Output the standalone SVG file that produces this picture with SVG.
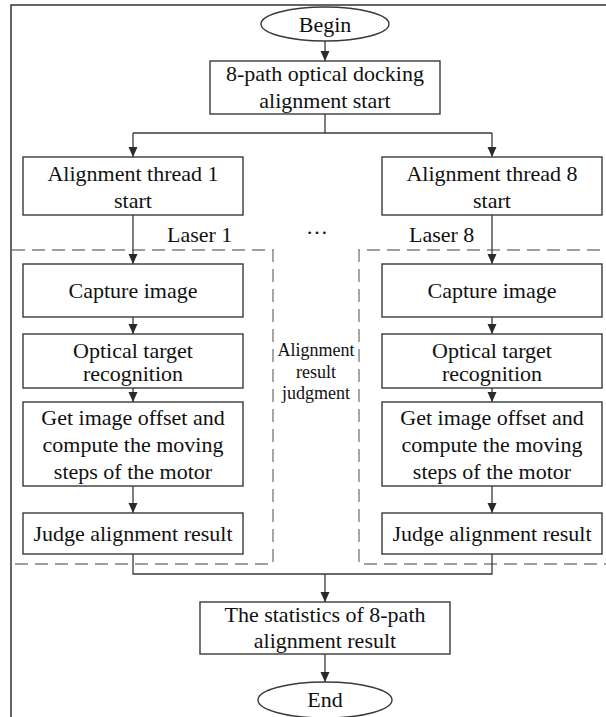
<svg xmlns="http://www.w3.org/2000/svg" width="606" height="717" viewBox="0 0 606 717">
  <style>
    .box { fill: #fff; stroke: #3a3a3a; stroke-width: 1.4; }
    .term { fill: #fff; stroke: #3a3a3a; stroke-width: 1.4; }
    .frame { fill: none; stroke: #333; stroke-width: 1.5; }
    .dash { fill: none; stroke: #808080; stroke-width: 1.4; stroke-dasharray: 13 7; }
    .wire { fill: none; stroke: #3a3a3a; stroke-width: 1.3; }
    .arr { marker-end: url(#head); }
    text { font-family: "Liberation Serif", "Times New Roman", serif; fill: #111; text-anchor: middle; }
    .t { font-size: 22px; }
    .s { font-size: 18px; }
  </style>
  <defs>
    <marker id="head" markerUnits="userSpaceOnUse" markerWidth="10" markerHeight="10" refX="10" refY="4.5" orient="auto">
      <path d="M0,0 L10,4.5 L0,9 z" fill="#2a2a2a"/>
    </marker>
  </defs>

  <rect width="606" height="717" fill="#fff"/>

  <!-- outer frame (continues past the canvas edge) -->
  <rect class="frame" x="11" y="5" width="700" height="800"/>

  <!-- dashed thread regions -->
  <g id="region-laser1">
    <path class="dash" d="M12,250 H273 V564 H12"/>
    <text class="t" x="167" y="242" style="text-anchor:start">Laser 1</text>
  </g>
  <g id="region-laser8">
    <path class="dash" d="M620,250 H359 V564 H620"/>
    <text class="t" x="409" y="242" style="text-anchor:start">Laser 8</text>
  </g>
  <g id="ellipsis">
    <text class="t" x="317" y="234">…</text>
  </g>
  <g id="judgment-label">
    <text class="s" x="316" y="356">Alignment</text>
    <text class="s" x="316" y="378">result</text>
    <text class="s" x="316" y="399">judgment</text>
  </g>

  <!-- connectors -->
  <g id="connectors">
    <line class="wire arr" x1="325" y1="41" x2="325" y2="61"/>
    <path class="wire" d="M325,114 V133 M133,133 H492"/>
    <line class="wire arr" x1="133" y1="133" x2="133" y2="157"/>
    <line class="wire arr" x1="492" y1="133" x2="492" y2="157"/>

    <line class="wire arr" x1="133" y1="215" x2="133" y2="264"/>
    <line class="wire arr" x1="133" y1="317" x2="133" y2="334"/>
    <line class="wire arr" x1="133" y1="388" x2="133" y2="402"/>
    <line class="wire arr" x1="133" y1="486" x2="133" y2="513"/>

    <line class="wire arr" x1="492" y1="215" x2="492" y2="264"/>
    <line class="wire arr" x1="492" y1="317" x2="492" y2="334"/>
    <line class="wire arr" x1="492" y1="388" x2="492" y2="402"/>
    <line class="wire arr" x1="492" y1="486" x2="492" y2="513"/>

    <path class="wire" d="M133,554 V574 H492 V554"/>
    <line class="wire arr" x1="325" y1="574" x2="325" y2="602"/>
    <line class="wire arr" x1="325" y1="654" x2="325" y2="682"/>
  </g>

  <g id="begin">
    <ellipse class="term" cx="325" cy="24" rx="64" ry="17"/>
    <text class="t" x="325" y="32">Begin</text>
  </g>
  <g id="docking-start">
    <rect class="box" x="210" y="61" width="230" height="53"/>
    <text class="t" x="325" y="81">8-path optical docking</text>
    <text class="t" x="325" y="108">alignment start</text>
  </g>

  <!-- thread 1 -->
  <g id="thread1-start">
    <rect class="box" x="23" y="157" width="220" height="58"/>
    <text class="t" x="133" y="181">Alignment thread 1</text>
    <text class="t" x="133" y="208">start</text>
  </g>
  <g id="thread1-capture">
    <rect class="box" x="23" y="264" width="220" height="53"/>
    <text class="t" x="133" y="298">Capture image</text>
  </g>
  <g id="thread1-recognition">
    <rect class="box" x="23" y="334" width="220" height="54"/>
    <text class="t" x="133" y="358">Optical target</text>
    <text class="t" x="133" y="381">recognition</text>
  </g>
  <g id="thread1-offset">
    <rect class="box" x="23" y="402" width="220" height="84"/>
    <text class="t" x="133" y="425">Get image offset and</text>
    <text class="t" x="133" y="452">compute the moving</text>
    <text class="t" x="133" y="479">steps of the motor</text>
  </g>
  <g id="thread1-judge">
    <rect class="box" x="23" y="513" width="220" height="41"/>
    <text class="t" x="133" y="541">Judge alignment result</text>
  </g>

  <!-- thread 8 -->
  <g id="thread8-start">
    <rect class="box" x="382" y="157" width="220" height="58"/>
    <text class="t" x="492" y="181">Alignment thread 8</text>
    <text class="t" x="492" y="208">start</text>
  </g>
  <g id="thread8-capture">
    <rect class="box" x="382" y="264" width="220" height="53"/>
    <text class="t" x="492" y="298">Capture image</text>
  </g>
  <g id="thread8-recognition">
    <rect class="box" x="382" y="334" width="220" height="54"/>
    <text class="t" x="492" y="358">Optical target</text>
    <text class="t" x="492" y="381">recognition</text>
  </g>
  <g id="thread8-offset">
    <rect class="box" x="382" y="402" width="220" height="84"/>
    <text class="t" x="492" y="425">Get image offset and</text>
    <text class="t" x="492" y="452">compute the moving</text>
    <text class="t" x="492" y="479">steps of the motor</text>
  </g>
  <g id="thread8-judge">
    <rect class="box" x="382" y="513" width="220" height="41"/>
    <text class="t" x="492" y="541">Judge alignment result</text>
  </g>

  <g id="statistics">
    <rect class="box" x="200" y="602" width="250" height="52"/>
    <text class="t" x="325" y="622">The statistics of 8-path</text>
    <text class="t" x="325" y="648">alignment result</text>
  </g>
  <g id="end">
    <ellipse class="term" cx="325" cy="700" rx="67" ry="18"/>
    <text class="t" x="325" y="707">End</text>
  </g>
</svg>
